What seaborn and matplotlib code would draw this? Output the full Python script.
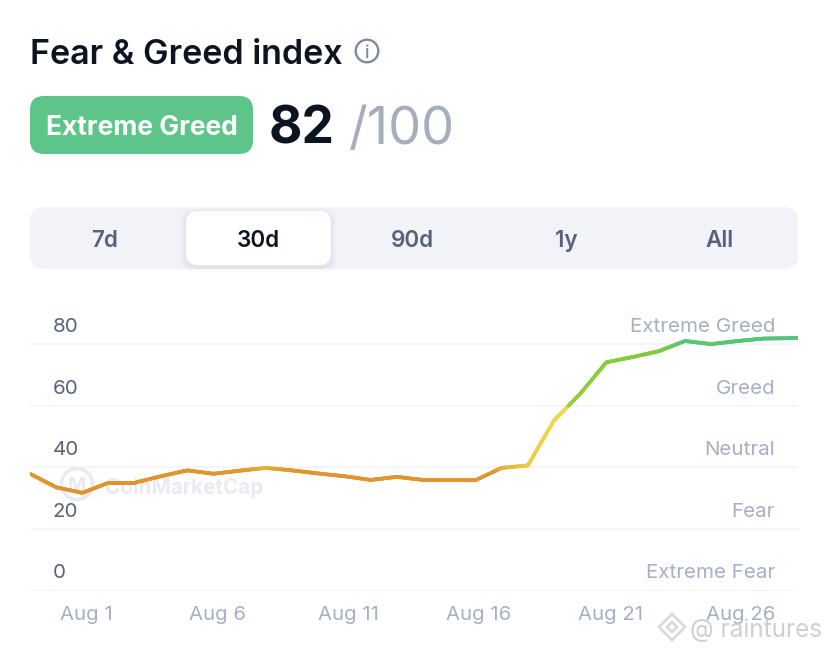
import numpy as np
import pandas as pd
import matplotlib
matplotlib.use("Agg")
import matplotlib.pyplot as plt
import seaborn as sns
from matplotlib.collections import LineCollection
from matplotlib.colors import to_rgb
from matplotlib.patches import FancyBboxPatch, Circle, RegularPolygon
from matplotlib.transforms import ScaledTranslation

# ---- data ----
day_index = list(range(31))
index_values = [37.9, 33.5, 31.7, 35.0, 35.0, 37.1, 39.0, 37.9, 38.9, 39.8, 39.0, 38.0,
                37.1, 35.9, 36.9, 35.9, 35.9, 35.8, 39.8, 40.6, 55.2, 63.9, 74.1, 75.8,
                77.7, 81.0, 80.0, 81.0, 81.8, 81.9, 81.9]
y_ticks = [0, 20, 40, 60, 80]
y_tick_labels = ["0", "20", "40", "60", "80"]
zone_labels = ["Extreme Fear", "Fear", "Neutral", "Greed", "Extreme Greed"]
x_tick_days = [2, 7, 12, 17, 22, 27]
x_tick_labels = ["Aug 1", "Aug 6", "Aug 11", "Aug 16", "Aug 21", "Aug 26"]
tabs = ["7d", "30d", "90d", "1y", "All"]
tab_centres = [105, 258, 412, 566, 720]
# colour stops along the value axis
stop_values = [0, 39.0, 40.6, 59.8, 60.2, 74, 78, 81, 100]
stop_colours = ["#DF8F30", "#DF9530", "#EBCB45", "#EFD84C", "#97CC3A", "#8ACB3A", "#7CCB3E", "#55C47C", "#4DC389"]

sns.set_theme(style="white")
plt.rcParams["font.family"] = ["Inter", "DejaVu Sans"]

W, H = 828, 652
fig = plt.figure(figsize=(W / 100, H / 100), dpi=100, facecolor="white")


def pixel_axes(z):
    a = fig.add_axes([0, 0, 1, 1], zorder=z)
    a.set_xlim(0, W)
    a.set_ylim(H, 0)
    a.axis("off")
    a.patch.set_alpha(0)
    return a


ui = pixel_axes(0)
top = pixel_axes(2)


def rbox(a, x0, y0, x1, y1, r, **kw):
    a.add_patch(FancyBboxPatch((x0 + r, y0 + r), x1 - x0 - 2 * r, y1 - y0 - 2 * r,
                               boxstyle=f"round,pad={r},rounding_size={r}", linewidth=0, **kw))


DARK = "#0D1421"
# header
ui.text(30, 51, "Fear & Greed index", fontsize=24.55, fontweight=600, color=DARK, va="center_baseline", ha="left")
ui.add_patch(Circle((367, 51), 11.3, fill=False, ec="#808A9D", lw=1.7))
ui.text(367, 51.5, "i", fontsize=13, color="#808A9D", ha="center", va="center_baseline", fontweight=500)
rbox(ui, 30, 96, 253, 154, 14, facecolor="#5DC48A")
ui.text(141.5, 125, "Extreme Greed", fontsize=19.0, fontweight=700, color="white", ha="center", va="center_baseline")
ui.text(269, 125, "82", fontsize=37, fontweight=700, color=DARK, ha="left", va="center_baseline")
ui.text(349, 125, "/100", fontsize=37.6, fontweight=400, color="#A6ADBF", ha="left", va="center_baseline")

# tabs
rbox(ui, 30, 207, 798, 269, 14, facecolor="#F1F3F8")
for grow, alpha in [(5, 0.025), (3, 0.03), (1.5, 0.04)]:
    rbox(ui, 186 - grow, 211 - grow + 2, 331 + grow, 265 + grow + 2, 12, facecolor="#58627A", alpha=alpha)
rbox(ui, 186, 211, 331, 265, 12, facecolor="white")
for label, cx in zip(tabs, tab_centres):
    active = label == "30d"
    ui.text(cx, 238.5, label, fontsize=16.2, fontweight=600, color=DARK if active else "#58627A",
            ha="center", va="center_baseline")

# CoinMarketCap watermark behind the line
ui.add_patch(Circle((77, 484), 15.5, fill=False, ec="#E8EBF2", lw=2.6))
ui.text(77, 484, "M", fontsize=14, color="#E8EBF2", fontweight=700, ha="center", va="center_baseline")
ui.text(105, 485, "CoinMarketCap", fontsize=14.9, color="#E8EBF2", fontweight=700, ha="left", va="center_baseline")

# ---- chart ----
px_per_unit = 61.6 / 20
px_per_day = 26.2
ax = fig.add_axes([30 / W, (H - 590.5) / H, 768 / W, 270 / H], zorder=1)
ax.patch.set_alpha(0)
df = pd.DataFrame({"day": day_index, "value": index_values})
sns.lineplot(data=df, x="day", y="value", ax=ax, color=stop_colours[0], lw=2.7, errorbar=None, legend=False)
ax.set_xlim(0, 768 / px_per_day)
ax.set_ylim(0, 270 / px_per_unit)
ax.lines[0].set_visible(False)

# colour the same polyline by its height
xs, ys = np.array(day_index, float), np.array(index_values, float)
fine_x = np.concatenate([np.linspace(xs[i], xs[i + 1], 25, endpoint=False) for i in range(len(xs) - 1)] + [xs[-1:]])
fine_y = np.concatenate([np.linspace(ys[i], ys[i + 1], 25, endpoint=False) for i in range(len(ys) - 1)] + [ys[-1:]])
rgb = np.array([to_rgb(c) for c in stop_colours])
mid = (fine_y[:-1] + fine_y[1:]) / 2
cols = np.column_stack([np.interp(mid, stop_values, rgb[:, k]) for k in range(3)])
segs = np.stack([np.column_stack([fine_x[:-1], fine_y[:-1]]), np.column_stack([fine_x[1:], fine_y[1:]])], axis=1)
ax.add_collection(LineCollection(segs, colors=cols, linewidths=2.7, capstyle="round", zorder=3))

ax.set_xlabel("")
ax.set_ylabel("")
for s in ax.spines.values():
    s.set_visible(False)
ax.set_yticks(y_ticks)
ax.set_yticklabels([])
ax.tick_params(axis="y", length=0)
ax.grid(axis="y", color="#F1F3F6", lw=1.2, zorder=0)
ax.set_axisbelow(True)
ax.set_xticks(x_tick_days)
ax.set_xticklabels(x_tick_labels, fontsize=14.6, color="#A6B0C3")
ax.tick_params(axis="x", length=0, pad=11)
shift = ScaledTranslation(3.7 / 100, 0, fig.dpi_scale_trans)
for t in ax.get_xticklabels():
    t.set_transform(t.get_transform() + shift)

trans_l = ax.get_yaxis_transform()
for v, lab, zone in zip(y_ticks, y_tick_labels, zone_labels):
    y_off = 19 / px_per_unit
    ax.text(23 / 768, v + y_off, lab, transform=trans_l, fontsize=14.8, color="#58627A", ha="left", va="center_baseline")
    ax.text(745 / 768, v + y_off, zone, transform=trans_l, fontsize=14.8, color="#A6B0C3", ha="right", va="center_baseline")

# reposter watermark
top.text(690, 628, "@ raintures", fontsize=17.5, color="#CFCFCF", ha="left", va="center_baseline")
top.add_patch(RegularPolygon((672, 627), 4, radius=13, fill=False, ec="#DADADA", lw=2))
top.add_patch(RegularPolygon((672, 627), 4, radius=5, fill=False, ec="#DADADA", lw=2))

fig.savefig("out.png", dpi=100, facecolor="white")
